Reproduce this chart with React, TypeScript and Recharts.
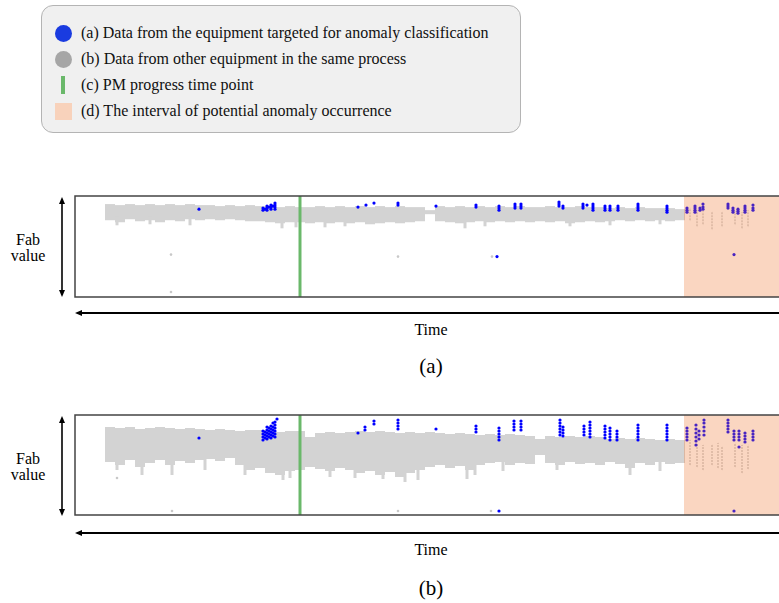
import { ComposedChart, Scatter, ErrorBar, XAxis, YAxis, ReferenceLine, ReferenceArea } from "recharts";

// time axis runs 0..145 across the frame, fab value 0..100 bottom to top
const PM_TIME = 45;
const ANOMALY_START = 121.8;
const TIME_END = 145;

const BIN_X = [
  7, 9, 11, 13, 15, 17, 19, 21, 23, 25, 27, 29, 31, 33, 35, 37, 39, 41, 43, 45,
  47, 49, 51, 53, 55, 57, 59, 61, 63, 65, 67, 69, 71, 73, 75, 77, 79, 81, 83, 85,
  87, 89, 91, 93, 95, 97, 99, 101, 103, 105, 107, 109, 111, 113, 115, 117, 119, 121,
];

// (a) gray band edges per time bin
const GRAY_A_HIGH = [
  92, 91, 92, 91, 92, 91, 92, 91, 92, 91, 91, 90, 91, 90, 91, 90, 90, 89, 90, 89,
  89, 90, 89, 90, 89, 90, 89, 90, 89, 90, 89, 89, 86, 90, 89, 90, 89, 90, 89, 90,
  89, 90, 89, 89, 90, 89, 89, 90, 89, 89, 88, 89, 88, 89, 88, 88, 88, 87,
];
const GRAY_A_LOW = [
  76, 74, 77, 75, 76, 74, 76, 75, 77, 76, 77, 76, 77, 76, 75, 75, 74, 73, 74, 74,
  73, 74, 73, 74, 73, 74, 72, 73, 74, 73, 74, 75, 82, 75, 74, 73, 74, 75, 74, 75,
  74, 75, 74, 75, 74, 75, 73, 74, 75, 74, 75, 76, 75, 76, 75, 76, 75, 76,
];
// [time, low, high]
const STREAKS_A = [
  [8.4, 71, 80], [15, 72, 80], [23, 71, 80], [41.4, 68, 78], [44.2, 69, 78],
  [50, 69, 78], [54, 70, 78], [78, 68, 78], [82, 70, 78], [99, 70, 78],
  [107, 71, 78], [117, 72, 78],
];
const SPARSE_A = [
  [123, 76, 88], [124.4, 70, 86], [125.6, 72, 85], [127.4, 67, 84],
  [129.4, 70, 84], [132, 72, 85], [133.4, 68, 84], [134.6, 70, 86],
];
const GRAY_OUT_A = [[19.2, 42], [19.2, 5], [64.6, 40], [83.4, 40]];
const BLUE_A = [
  [24.8, 87],
  [37.6, 86], [37.6, 88], [38.4, 86], [38.4, 88], [38.4, 90], [39.2, 87], [39.2, 89], [39.2, 91],
  [40, 87], [40, 89], [40, 91], [40, 93], [38, 87], [38.8, 89], [39.6, 90],
  [56.6, 89], [58.2, 91], [59.8, 93], [64.6, 91], [64.6, 93],
  [72.2, 90], [80.2, 89], [80.2, 91], [84.8, 86], [84.8, 88], [84.8, 90],
  [88, 88], [88, 90], [88, 92], [89.2, 88], [89.2, 90], [89.2, 92],
  [96.8, 90], [96.8, 92], [96.8, 94], [97.6, 88], [97.6, 90],
  [101.6, 88], [101.6, 90], [101.6, 92], [102.4, 91], [103.6, 86], [103.6, 88], [103.6, 90], [103.6, 92],
  [106, 86], [106, 88], [106, 90], [107, 86], [107, 88], [107, 90], [108.6, 86], [108.6, 88], [108.6, 90],
  [112.6, 86], [112.6, 88], [112.6, 90], [112.6, 92],
  [118.4, 84], [118.4, 86], [118.4, 88], [118.4, 90],
  [122.4, 84], [122.4, 86], [122.4, 88], [124, 84], [124, 86], [124, 88], [124, 90],
  [125, 86], [125, 88], [125.6, 87], [125.6, 89], [125.6, 92],
  [130.6, 88], [130.6, 90], [130.6, 92], [131.6, 84], [131.6, 86], [131.6, 88],
  [132.6, 83], [132.6, 85], [132.6, 87], [134, 84], [134, 86], [134, 88], [134, 90],
  [135.6, 86], [135.6, 88], [135.6, 91],
  [84.4, 40], [131.8, 42],
];

// (b)
const GRAY_B_HIGH = [
  88, 87, 88, 86, 87, 88, 87, 86, 87, 86, 85, 86, 85, 84, 85, 85, 84, 83, 84, 84,
  78, 82, 83, 82, 83, 84, 83, 84, 83, 82, 83, 82, 83, 82, 81, 82, 81, 80, 81, 80,
  81, 80, 79, 76, 79, 78, 79, 78, 79, 78, 76, 77, 76, 77, 76, 75, 76, 75,
];
const GRAY_B_LOW = [
  53, 50, 55, 48, 52, 55, 50, 54, 52, 55, 56, 54, 57, 50, 45, 47, 42, 40, 44, 45,
  48, 46, 44, 47, 45, 42, 44, 40, 43, 38, 42, 45, 48, 50, 47, 49, 45, 50, 52, 53,
  50, 52, 51, 60, 52, 50, 53, 51, 52, 50, 53, 51, 47, 52, 50, 53, 51, 52,
];
const STREAKS_B = [
  [8.4, 45, 60], [13.4, 40, 60], [19.4, 40, 60], [26, 45, 60], [34, 40, 55],
  [41.6, 35, 55], [43, 37, 55], [51, 38, 55], [56, 37, 55], [61.6, 36, 55],
  [66, 33, 55], [68.6, 35, 55], [78.4, 36, 55], [80, 40, 55], [85.6, 44, 55],
  [96.4, 45, 58], [111, 40, 58], [117, 44, 58],
];
const SPARSE_B = [
  [123, 50, 75], [124.4, 48, 72], [125.6, 45, 70], [127.4, 50, 70], [128.6, 47, 72],
  [129.4, 45, 68], [132, 48, 72], [133.4, 42, 70], [134.6, 46, 70],
];
const GRAY_OUT_B = [[8.4, 37], [19.4, 4], [64.6, 4], [83.2, 4]];
const BLUE_B = [
  [24.8, 77],
  [37.6, 75], [37.6, 78], [37.6, 81], [37.6, 84], [38.4, 76], [38.4, 79], [38.4, 82], [38.4, 85], [38.4, 88],
  [39.2, 77], [39.2, 80], [39.2, 83], [39.2, 86], [39.2, 89], [40, 78], [40, 81], [40, 84], [40, 87], [40, 90],
  [40, 93], [40.4, 96], [39.6, 92], [38, 77], [38, 80], [38, 83], [38.8, 78], [38.8, 81], [38.8, 84], [38.8, 87],
  [39.6, 79], [39.6, 82], [39.6, 85], [39.6, 88],
  [56.6, 82], [58, 85], [58, 88], [59.8, 91], [59.8, 94], [64.6, 86], [64.6, 89], [64.6, 92], [64.6, 95],
  [72.2, 86], [80.2, 83], [80.2, 86], [80.2, 89],
  [84.8, 75], [84.8, 78], [84.8, 81], [84.8, 84], [84.8, 87],
  [87.8, 85], [87.8, 88], [87.8, 91], [87.8, 94], [89.2, 85], [89.2, 88], [89.2, 91], [89.2, 94],
  [97, 80], [97, 83], [97, 86], [97, 89], [97, 92], [97, 95], [97.6, 79], [97.6, 82], [97.6, 85], [97.6, 88],
  [101.8, 80], [101.8, 83], [101.8, 86], [101.8, 89], [103, 78], [103, 81], [103, 84], [103, 87], [103, 90], [103, 93],
  [106, 77], [106, 80], [106, 83], [106, 86], [106, 89], [107, 75], [107, 78], [107, 81], [107, 84], [107, 87],
  [108.4, 75], [108.4, 78], [108.4, 81], [108.4, 84],
  [112.6, 75], [112.6, 78], [112.6, 81], [112.6, 84], [112.6, 87], [112.6, 90],
  [118.4, 75], [118.4, 78], [118.4, 81], [118.4, 84], [118.4, 87], [118.4, 90],
  [122.4, 75], [122.4, 78], [122.4, 81], [122.4, 84], [122.4, 87],
  [124.2, 70], [124.2, 74], [124.2, 78], [124.2, 82], [124.2, 86], [124.2, 90],
  [124.8, 76], [124.8, 80], [124.8, 84], [125.8, 80], [125.8, 84], [125.8, 88], [125.8, 92], [125.8, 95],
  [130.6, 83], [130.6, 86], [130.6, 89], [130.6, 92], [130.6, 95],
  [131.8, 75], [131.8, 78], [131.8, 81], [131.8, 84], [132.8, 75], [132.8, 78], [132.8, 81], [132.8, 84],
  [134, 73], [134, 76], [134, 79], [134, 82], [135.6, 75], [135.6, 78], [135.6, 81], [135.6, 84], [132.8, 68],
  [84.8, 4], [131.8, 4],
];

const GRAY = "#d3d3d3";
const BLUE = "#0000ff";
const GREEN = "#6ab86a";
const SERIF = '"Liberation Serif", "Times New Roman", serif';

const dot = (fill: string, r: number) => (p: any) => <circle cx={p.cx} cy={p.cy} r={r} fill={fill} />;
const noDot = () => <g />;

const toRange = (rows: number[][]) => rows.map(([x, lo, hi]) => ({ x, y: (lo + hi) / 2, e: (hi - lo) / 2 }));

function Panel({ top, height, high, low, streaks, sparse, outliers, blue }: any) {
  const band = BIN_X.map((x, i) => ({ x, y: (high[i] + low[i]) / 2, e: (high[i] - low[i]) / 2 }));
  const grayPts = outliers.map(([x, y]: number[]) => ({ x, y }));
  const bluePts = blue.map(([x, y]: number[]) => ({ x, y }));
  return (
    <div style={{ position: "absolute", left: 70, top: top - 5 }}>
      <ComposedChart width={735} height={height + 10} margin={{ top: 5, right: 5, bottom: 5, left: 5 }}>
        <XAxis dataKey="x" type="number" domain={[0, TIME_END]} hide allowDataOverflow />
        <YAxis dataKey="y" type="number" domain={[0, 100]} hide allowDataOverflow />
        <Scatter data={band} shape={noDot} isAnimationActive={false}>
          <ErrorBar dataKey="e" direction="y" width={0} stroke={GRAY} strokeWidth={10} isAnimationActive={false} />
        </Scatter>
        <Scatter data={toRange(streaks)} shape={noDot} isAnimationActive={false}>
          <ErrorBar dataKey="e" direction="y" width={0} stroke={GRAY} strokeWidth={3} isAnimationActive={false} />
        </Scatter>
        <Scatter data={toRange(sparse)} shape={noDot} isAnimationActive={false}>
          <ErrorBar dataKey="e" direction="y" width={0} stroke={GRAY} strokeWidth={2} strokeOpacity={0.8} strokeDasharray="2 1" isAnimationActive={false} />
        </Scatter>
        <Scatter data={grayPts} shape={dot("#c8c8c8", 1.3)} isAnimationActive={false} />
        <ReferenceLine x={PM_TIME} stroke={GREEN} strokeWidth={3} zIndex={900} />
        <Scatter data={bluePts} shape={dot(BLUE, 1.6)} isAnimationActive={false} />
        <ReferenceArea x1={ANOMALY_START} x2={TIME_END} fill="#f07832" fillOpacity={0.3} stroke="none" zIndex={1000} />
        <ReferenceArea x1={0} x2={TIME_END} y1={0} y2={100} fill="none" stroke="#444" strokeWidth={1.5} zIndex={1100} />
      </ComposedChart>
    </div>
  );
}

function Arrows({ boxTop, boxBottom, timeY, timeLabelY, capY, cap }: any) {
  return (
    <g>
      <line x1={62} y1={boxTop + 3} x2={62} y2={boxBottom - 3} stroke="#000" strokeWidth={1.6} />
      <polygon points={`62,${boxTop} 59,${boxTop + 7} 65,${boxTop + 7}`} fill="#000" />
      <polygon points={`62,${boxBottom} 59,${boxBottom - 7} 65,${boxBottom - 7}`} fill="#000" />
      <text x={28} y={(boxTop + boxBottom) / 2 - 8} textAnchor="middle" dominantBaseline="central" fontSize={16}>Fab</text>
      <text x={28} y={(boxTop + boxBottom) / 2 + 8} textAnchor="middle" dominantBaseline="central" fontSize={16}>value</text>
      <line x1={78} y1={timeY} x2={779} y2={timeY} stroke="#000" strokeWidth={2} />
      <polygon points={`75,${timeY} 82,${timeY - 3} 82,${timeY + 3}`} fill="#000" />
      <text x={431} y={timeLabelY} textAnchor="middle" dominantBaseline="central" fontSize={16}>Time</text>
      <text x={431} y={capY} textAnchor="middle" dominantBaseline="central" fontSize={21}>{cap}</text>
    </g>
  );
}

const LEGEND_ITEMS = [
  "(a) Data from the equipment targeted for anomaly classification",
  "(b) Data from other equipment in the same process",
  "(c) PM progress time point",
  "(d) The interval of potential anomaly occurrence",
];

function LegendBox() {
  const marks = [
    <div style={{ width: 17, height: 17, borderRadius: "50%", background: "#1a3be0" }} />,
    <div style={{ width: 17, height: 17, borderRadius: "50%", background: "#a6a6a6" }} />,
    <div style={{ width: 4, height: 18, background: GREEN, marginLeft: 6 }} />,
    <div style={{ width: 17, height: 17, background: "#f8d2bb" }} />,
  ];
  return (
    <div style={{ position: "absolute", left: 41, top: 5, width: 478, height: 126, background: "#f0f0f0", border: "1px solid #b4b4b4", borderRadius: 12 }}>
      {LEGEND_ITEMS.map((t, i) => (
        <div key={i} style={{ position: "absolute", left: 13, top: 17 + i * 26, height: 20, display: "flex", alignItems: "center" }}>
          <div style={{ width: 17, display: "flex", justifyContent: "flex-start" }}>{marks[i]}</div>
          <span style={{ marginLeft: 9, fontSize: 16, color: "#111", whiteSpace: "nowrap" }}>{t}</span>
        </div>
      ))}
    </div>
  );
}

export default function App() {
  return (
    <div style={{ position: "absolute", left: 0, top: 0, width: 779, height: 603, overflow: "hidden", background: "#fff", fontFamily: SERIF }}>
      <LegendBox />
      <Panel top={196} height={101} high={GRAY_A_HIGH} low={GRAY_A_LOW} streaks={STREAKS_A} sparse={SPARSE_A} outliers={GRAY_OUT_A} blue={BLUE_A} />
      <Panel top={415} height={100} high={GRAY_B_HIGH} low={GRAY_B_LOW} streaks={STREAKS_B} sparse={SPARSE_B} outliers={GRAY_OUT_B} blue={BLUE_B} />
      <svg width={779} height={603} style={{ position: "absolute", left: 0, top: 0, pointerEvents: "none", fontFamily: SERIF }}>
        <Arrows boxTop={197} boxBottom={297} timeY={313} timeLabelY={329} capY={366} cap="(a)" />
        <Arrows boxTop={416} boxBottom={516} timeY={533} timeLabelY={549} capY={588} cap="(b)" />
      </svg>
    </div>
  );
}
